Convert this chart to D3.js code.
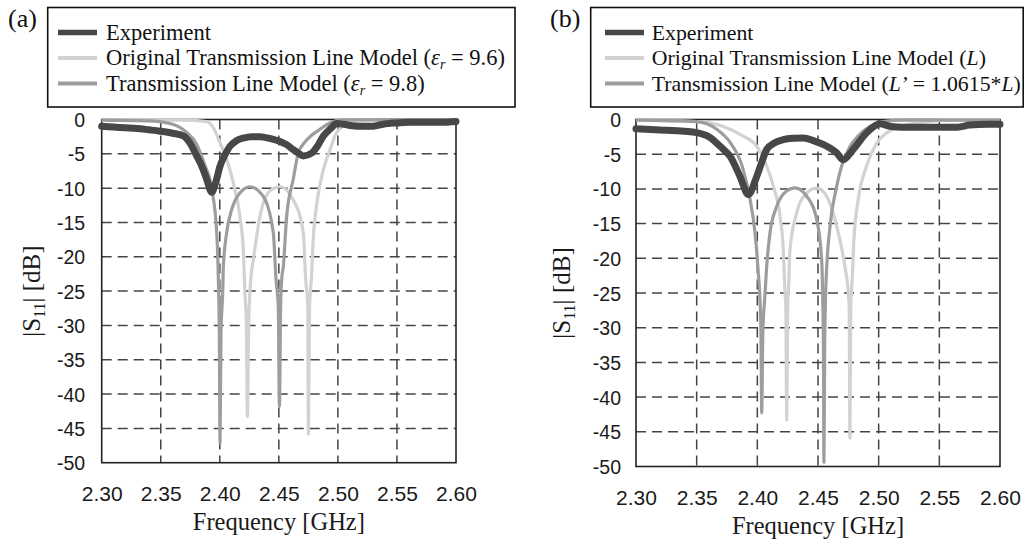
<!DOCTYPE html>
<html><head><meta charset="utf-8">
<script src="https://cdn.jsdelivr.net/npm/d3@7"></script>
<style>
html,body{margin:0;padding:0;background:#fff;}
svg{display:block;}
</style></head>
<body>
<svg id="c" width="1030" height="542"></svg>
<script>
// ---------- DATA ----------
const freqTicks = [2.30, 2.35, 2.40, 2.45, 2.50, 2.55, 2.60];
const dbTicks = [0, -5, -10, -15, -20, -25, -30, -35, -40, -45, -50];

// Panel (a)
const expA_f = [2.300,2.310,2.320,2.330,2.340,2.3494,2.360,2.3691,2.375,2.3804,2.385,2.3889,2.3931,2.3965,2.4002,2.4045,2.4086,2.414,2.4199,2.427,2.434,2.443,2.451,2.457,2.4622,2.4665,2.4707,2.4778,2.483,2.4877,2.494,2.499,2.505,2.512,2.520,2.528,2.535,2.542,2.550,2.560,2.575,2.590,2.600];
const expA_db = [-1.0,-1.1,-1.2,-1.3,-1.5,-1.7,-2.0,-2.4,-3.5,-5.3,-6.9,-8.7,-10.6,-9.2,-6.8,-5.1,-3.9,-3.1,-2.7,-2.5,-2.5,-2.8,-3.2,-3.7,-4.4,-4.9,-5.3,-4.9,-3.8,-2.4,-1.3,-0.6,-0.7,-0.9,-1.0,-1.0,-0.8,-0.6,-0.5,-0.4,-0.4,-0.4,-0.3];

const origA_f = [2.300,2.330,2.3691,2.3889,2.3945,2.4002,2.4058,2.4114,2.4170,2.4199,2.4213,2.4225,2.4234,2.4245,2.4262,2.4284,2.4340,2.4425,2.4510,2.4622,2.4707,2.4727,2.4745,2.4750,2.4760,2.4775,2.4791,2.4826,2.4877,2.4933,2.4990,2.5075,2.520,2.540,2.600];
const origA_db = [-0.1,-0.1,-0.1,-0.3,-1.2,-3.4,-5.8,-9.2,-14.1,-19.0,-25.3,-29.6,-43.3,-29.6,-23.3,-20.4,-14.1,-10.4,-9.8,-11.7,-16.5,-23.3,-27.2,-45.8,-27.2,-23.3,-17.5,-11.7,-7.3,-4.4,-1.9,-0.7,-0.2,-0.1,-0.1];

const modA_f = [2.300,2.340,2.360,2.372,2.380,2.387,2.3931,2.3974,2.3990,2.3996,2.4002,2.4010,2.4025,2.4030,2.4058,2.4101,2.4170,2.4255,2.4368,2.4453,2.4476,2.4495,2.4505,2.4515,2.4524,2.4538,2.4566,2.4622,2.4664,2.4720,2.4770,2.4826,2.4933,2.5018,2.540,2.600];
const modA_db = [-0.1,-0.2,-0.7,-1.9,-3.5,-6.5,-10.0,-16.5,-25.0,-31.0,-47.1,-31.0,-25.0,-21.4,-16.5,-13.1,-10.7,-9.8,-11.2,-16.5,-23.3,-27.2,-41.8,-27.2,-23.3,-21.4,-14.1,-8.7,-4.9,-3.3,-2.4,-1.7,-0.5,-0.1,0.0,0.0];

// Panel (b)
const expB_f = [2.300,2.320,2.340,2.350,2.360,2.3665,2.372,2.3775,2.3857,2.3926,2.3995,2.404,2.4077,2.414,2.4214,2.430,2.4379,2.447,2.4544,2.4654,2.4708,2.479,2.4901,2.5011,2.510,2.520,2.540,2.565,2.575,2.590,2.600];
const expB_db = [-1.35,-1.5,-1.7,-1.9,-2.5,-3.4,-4.3,-5.3,-8.2,-10.8,-8.2,-6.0,-4.3,-3.4,-2.9,-2.7,-2.65,-3.1,-3.6,-4.8,-5.8,-4.3,-1.9,-0.6,-1.0,-1.1,-1.1,-1.1,-0.8,-0.7,-0.7];

const origB_f = [2.300,2.350,2.372,2.3884,2.3995,2.4077,2.4132,2.4187,2.4214,2.4228,2.4235,2.4242,2.4250,2.4258,2.4269,2.4324,2.4407,2.4489,2.4572,2.4654,2.4722,2.4750,2.4757,2.4763,2.4770,2.4785,2.4796,2.4832,2.4900,2.4984,2.5066,2.512,2.520,2.540,2.560,2.600];
const origB_db = [-0.1,-0.3,-1.0,-2.4,-3.85,-6.7,-9.6,-13.95,-18.8,-25.0,-27.0,-43.3,-27.0,-24.0,-18.8,-13.5,-10.6,-9.9,-11.1,-15.4,-21.2,-25.0,-27.0,-45.9,-27.0,-22.0,-17.3,-11.5,-6.7,-3.4,-1.9,-1.4,-0.9,-0.3,-0.1,-0.1];

const modB_f = [2.300,2.350,2.3665,2.378,2.388,2.3940,2.3981,2.4008,2.4022,2.4030,2.4036,2.4045,2.4060,2.4077,2.4104,2.4160,2.4242,2.4310,2.4407,2.4489,2.4530,2.4538,2.4545,2.4549,2.4555,2.4563,2.4572,2.4599,2.4654,2.4695,2.4760,2.4830,2.4928,2.5038,2.520,2.600];
const modB_db = [-0.1,-0.3,-1.4,-3.4,-7.0,-11.5,-16.35,-22.1,-26.0,-31.0,-42.3,-31.0,-26.0,-21.2,-16.35,-12.5,-10.3,-9.86,-11.06,-14.4,-20.2,-25.0,-33.0,-49.4,-33.0,-25.0,-21.2,-15.4,-9.6,-6.7,-4.0,-2.4,-1.0,-0.3,-0.1,-0.1];

const legendA = ["Experiment", "Original Transmission Line Model", "Transmission Line Model"];
const legendB = ["Experiment", "Original Transmission Line Model", "Transmission Line Model"];

// ---------- STYLE ----------
const colExp = "#474747", colOrig = "#d2d2d2", colMod = "#9d9d9d";
const serif = "'Liberation Serif','Times New Roman',Times,serif";
const sans = "'Liberation Sans',Arial,Helvetica,sans-serif";

const svg = d3.select("#c");

function zip(f, d) { return f.map((v, i) => [v, d[i]]); }

function panel(cfg) {
  const x = d3.scaleLinear().domain([2.30, 2.60]).range([cfg.left, cfg.right]);
  const y = d3.scaleLinear().domain([0, -50]).range([cfg.top, cfg.bottom]);
  const g = svg.append("g");

  // grid
  g.selectAll("line.vg").data(freqTicks.slice(1, -1)).enter().append("line")
    .attr("x1", d => x(d)).attr("x2", d => x(d)).attr("y1", cfg.top).attr("y2", cfg.bottom)
    .attr("stroke", "#444").attr("stroke-width", 1.5).attr("stroke-dasharray", "10,6");
  g.selectAll("line.hg").data(dbTicks.slice(1, -1)).enter().append("line")
    .attr("y1", d => y(d)).attr("y2", d => y(d)).attr("x1", cfg.left).attr("x2", cfg.right)
    .attr("stroke", "#444").attr("stroke-width", 1.5).attr("stroke-dasharray", "10,6");

  // frame
  g.append("rect").attr("x", cfg.left).attr("y", cfg.top)
    .attr("width", cfg.right - cfg.left).attr("height", cfg.bottom - cfg.top)
    .attr("fill", "none").attr("stroke", "#222").attr("stroke-width", 1.6);

  // axes (labels only)
  const xa = d3.axisBottom(x).tickValues(freqTicks).tickFormat(d3.format(".2f")).tickSize(0).tickPadding(0);
  const gx = g.append("g").attr("transform", `translate(0,${cfg.bottom})`).call(xa);
  gx.select(".domain").remove();
  gx.selectAll("text").attr("dy", null).attr("y", 38.5)
    .attr("font-family", sans).attr("font-size", 21).attr("fill", "#1a1a1a");

  const ya = d3.axisLeft(y).tickValues(dbTicks).tickFormat(d3.format("d")).tickSize(0).tickPadding(0);
  const gy = g.append("g").attr("transform", `translate(${cfg.left},0)`).call(ya);
  gy.select(".domain").remove();
  gy.selectAll("text").attr("x", -cfg.ypad).attr("dy", "0.36em")
    .attr("font-family", sans).attr("font-size", 19.5).attr("fill", "#1a1a1a")
    .text(d => d === 0 ? "0" : "-" + Math.abs(d));

  // axis titles
  g.append("text").attr("x", (cfg.left + cfg.right) / 2).attr("y", cfg.bottom + 67.5)
    .attr("text-anchor", "middle").attr("font-family", serif).attr("font-size", 24.5).attr("fill", "#1a1a1a")
    .text("Frequency [GHz]");
  const yt = g.append("text")
    .attr("transform", `translate(${cfg.ytx},${(cfg.top + cfg.bottom) / 2}) rotate(-90)`)
    .attr("text-anchor", "middle").attr("font-family", serif).attr("font-size", 25).attr("fill", "#1a1a1a");
  yt.append("tspan").text("|S");
  yt.append("tspan").attr("font-size", 16).attr("dy", 5).text("11");
  yt.append("tspan").attr("dy", -5).text("| [dB]");

  // curves
  const line = d3.line().x(d => x(d[0])).y(d => y(d[1])).curve(d3.curveMonotoneX);
  g.append("path").datum(zip(cfg.orig[0], cfg.orig[1])).attr("d", line)
    .attr("fill", "none").attr("stroke", colOrig).attr("stroke-width", 3.2).attr("stroke-linejoin", "round");
  g.append("path").datum(zip(cfg.mod[0], cfg.mod[1])).attr("d", line)
    .attr("fill", "none").attr("stroke", colMod).attr("stroke-width", 3.2).attr("stroke-linejoin", "round");
  g.append("path").datum(zip(cfg.exp[0], cfg.exp[1])).attr("d", line)
    .attr("fill", "none").attr("stroke", colExp).attr("stroke-width", 7)
    .attr("stroke-linejoin", "round").attr("stroke-linecap", "round");

  // panel label
  svg.append("text").attr("x", cfg.labx).attr("y", 27).attr("font-family", serif)
    .attr("font-size", 26).attr("fill", "#111").text(cfg.label);

  // legend
  const lg = svg.append("g");
  lg.append("rect").attr("x", cfg.lbx).attr("y", 7.5).attr("width", cfg.lbw).attr("height", 99.5)
    .attr("fill", "#fff").attr("stroke", "#111").attr("stroke-width", 1.6);
  const rows = [
    { c: colExp, w: 5.5 }, { c: colOrig, w: 4 }, { c: colMod, w: 4 }
  ];
  const bases = [39.5, 65, 90.5];
  rows.forEach((r, i) => {
    lg.append("line").attr("x1", cfg.lsx).attr("x2", cfg.lsx + 39)
      .attr("y1", bases[i] - 7).attr("y2", bases[i] - 7)
      .attr("stroke", r.c).attr("stroke-width", r.w);
  });
  cfg.legend(lg, cfg.ltx, bases, cfg.lfs);
}

function legTextA(lg, x0, b, fs) {
  lg.append("text").attr("x", x0).attr("y", b[0]).attr("font-family", serif).attr("font-size", fs).attr("fill", "#111").text(legendA[0]);
  const t1 = lg.append("text").attr("x", x0).attr("y", b[1]).attr("font-family", serif).attr("font-size", fs).attr("fill", "#111");
  t1.append("tspan").text(legendA[1] + " (");
  t1.append("tspan").attr("font-style", "italic").text("ε");
  t1.append("tspan").attr("font-style", "italic").attr("font-size", 14).attr("dy", 4).text("r");
  t1.append("tspan").attr("dy", -4).text(" = 9.6)");
  const t2 = lg.append("text").attr("x", x0).attr("y", b[2]).attr("font-family", serif).attr("font-size", fs).attr("fill", "#111");
  t2.append("tspan").text(legendA[2] + " (");
  t2.append("tspan").attr("font-style", "italic").text("ε");
  t2.append("tspan").attr("font-style", "italic").attr("font-size", 14).attr("dy", 4).text("r");
  t2.append("tspan").attr("dy", -4).text(" = 9.8)");
}
function legTextB(lg, x0, b, fs) {
  lg.append("text").attr("x", x0).attr("y", b[0]).attr("font-family", serif).attr("font-size", fs).attr("fill", "#111").text(legendB[0]);
  const t1 = lg.append("text").attr("x", x0).attr("y", b[1]).attr("font-family", serif).attr("font-size", fs).attr("fill", "#111");
  t1.append("tspan").text(legendB[1] + " (");
  t1.append("tspan").attr("font-style", "italic").text("L");
  t1.append("tspan").text(")");
  const t2 = lg.append("text").attr("x", x0).attr("y", b[2]).attr("font-family", serif).attr("font-size", fs).attr("fill", "#111");
  t2.append("tspan").text(legendB[2] + " (");
  t2.append("tspan").attr("font-style", "italic").text("L’");
  t2.append("tspan").text(" = 1.0615*");
  t2.append("tspan").attr("font-style", "italic").text("L");
  t2.append("tspan").text(")");
}

panel({
  left: 101.7, right: 456, top: 119.5, bottom: 462.7, ypad: 16.5, ytx: 39.5,
  exp: [expA_f, expA_db], orig: [origA_f, origA_db], mod: [modA_f, modA_db],
  label: "(a)", labx: 8, lbx: 47.7, lbw: 467.3, lsx: 58, ltx: 106, lfs: 22.5, legend: legTextA
});
panel({
  left: 636, right: 1000, top: 119.5, bottom: 466.5, ypad: 15, ytx: 569.5,
  exp: [expB_f, expB_db], orig: [origB_f, origB_db], mod: [modB_f, modB_db],
  label: "(b)", labx: 550, lbx: 590.7, lbw: 432.5, lsx: 605, ltx: 651.7, lfs: 21.8, legend: legTextB
});
</script>
</body></html>
